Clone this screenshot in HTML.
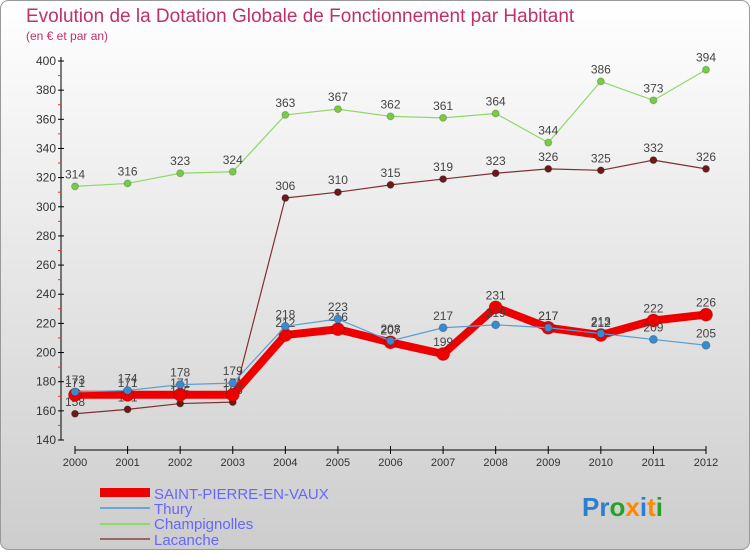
<!DOCTYPE html>
<html><head><meta charset="utf-8"><style>
body{margin:0;width:750px;height:550px;overflow:hidden;font-family:"Liberation Sans",sans-serif}
</style></head><body>
<svg width="750" height="550" xmlns="http://www.w3.org/2000/svg">
<defs><linearGradient id="bg" x1="0" y1="0" x2="0" y2="1"><stop offset="0" stop-color="#ffffff"/><stop offset="1" stop-color="#cdcdcd"/></linearGradient></defs>
<rect x="0.5" y="0.5" width="749" height="549" rx="8" fill="url(#bg)" stroke="#999"/>
<text x="26" y="22" font-size="19" fill="#c0306a">Evolution de la Dotation Globale de Fonctionnement par Habitant</text>
<text x="26" y="40" font-size="12" fill="#c0306a">(en € et par an)</text>
<g id="axes"></g><g id="series"></g>
<g>
<rect x="100" y="488" width="50" height="9" fill="#e00"/>
<text x="154" y="499" font-size="15" fill="#6666ff">SAINT-PIERRE-EN-VAUX</text>
<line x1="100" y1="508" x2="150" y2="508" stroke="#6fa4d8" stroke-width="2"/>
<text x="154" y="514" font-size="15" fill="#6666ff">Thury</text>
<line x1="100" y1="524" x2="150" y2="524" stroke="#8fd86a" stroke-width="2"/>
<text x="154" y="529" font-size="15" fill="#6666ff">Champignolles</text>
<line x1="100" y1="539" x2="150" y2="539" stroke="#996666" stroke-width="2"/>
<text x="154" y="545" font-size="15" fill="#6666ff">Lacanche</text>
</g>
<text x="582" y="516" font-size="26" font-weight="bold"><tspan fill="#2a7fd0">Pr</tspan><tspan fill="#2aa02a">o</tspan><tspan fill="#ff8800">x</tspan><tspan fill="#2a7fd0">i</tspan><tspan fill="#ff8800">t</tspan><tspan fill="#2aa02a">i</tspan></text>
</svg>
<script>
const years=[2000,2001,2002,2003,2004,2005,2006,2007,2008,2009,2010,2011,2012];
const saint=[171,171,171,171,212,216,207,199,231,217,212,222,226];
const thury=[173,174,178,179,218,223,208,217,219,217,213,209,205];
const champ=[314,316,323,324,363,367,362,361,364,344,386,373,394];
const lacan=[158,161,165,166,306,310,315,319,323,326,325,332,326];
const yTicks=[140,160,180,200,220,240,260,280,300,320,340,360,380,400];
const NS="http://www.w3.org/2000/svg";
const x=i=>75+i*(706-75)/(years.length-1);
const y=v=>440-(v-140)*(379/260);
function mk(t,a,p){const e=document.createElementNS(NS,t);for(const k in a)e.setAttribute(k,a[k]);p.appendChild(e);return e;}
const ax=document.getElementById('axes');
const yl=mk('line',{x1:61,y1:y(400)-4,x2:61,y2:440,stroke:'#000'},ax);


yTicks.forEach(v=>{
 mk('line',{x1:58,x2:64,y1:y(v),y2:y(v),stroke:'#000'},ax);
 if(v<400) mk('line',{x1:58,x2:61,y1:y(v+10),y2:y(v+10),stroke:'#e33'},ax);
 const t=mk('text',{x:56,y:y(v)+4,'font-size':12,fill:'#333','text-anchor':'end'},ax);t.textContent=v;
 
 
});
const xl=mk('line',{x1:75,x2:706,y1:450,y2:450,stroke:'#000'},ax);


years.forEach((yr,i)=>{
 mk('line',{x1:x(i),x2:x(i),y1:446,y2:454,stroke:'#000'},ax);
 const t=mk('text',{x:x(i),y:466,'font-size':11,fill:'#333','text-anchor':'middle'},ax);t.textContent=yr;
 
 
});
const sg=document.getElementById('series');
function series(d,col,dot,w,r,name){
 const g=mk('g',{},sg);
 
 
 mk('polyline',{points:d.map((v,i)=>x(i)+','+y(v)).join(' '),fill:'none',stroke:col,'stroke-width':w,'stroke-linejoin':'round'},g);
 d.forEach((v,i)=>{
  const c=mk('circle',{cx:x(i),cy:y(v),r:r,fill:dot,stroke:'rgba(0,0,0,0.2)'},g);
  
  
  const t=mk('text',{x:x(i),y:y(v)-8,'font-size':12,fill:'#444','text-anchor':'middle'},g);t.textContent=v;
  
  
 });
}
series(champ,'#8fd86a','#77cc44',1.2,3.5,'champignolles-line');
series(lacan,'#803030','#6a1a1a',1.2,3.5,'lacanche-line');
series(saint,'#ee0000','#ee0000',8,6.5,'saint-pierre-line');
series(thury,'#5a9fd4','#3a8ad0',1.2,4,'thury-line');
</script>
</body></html>
